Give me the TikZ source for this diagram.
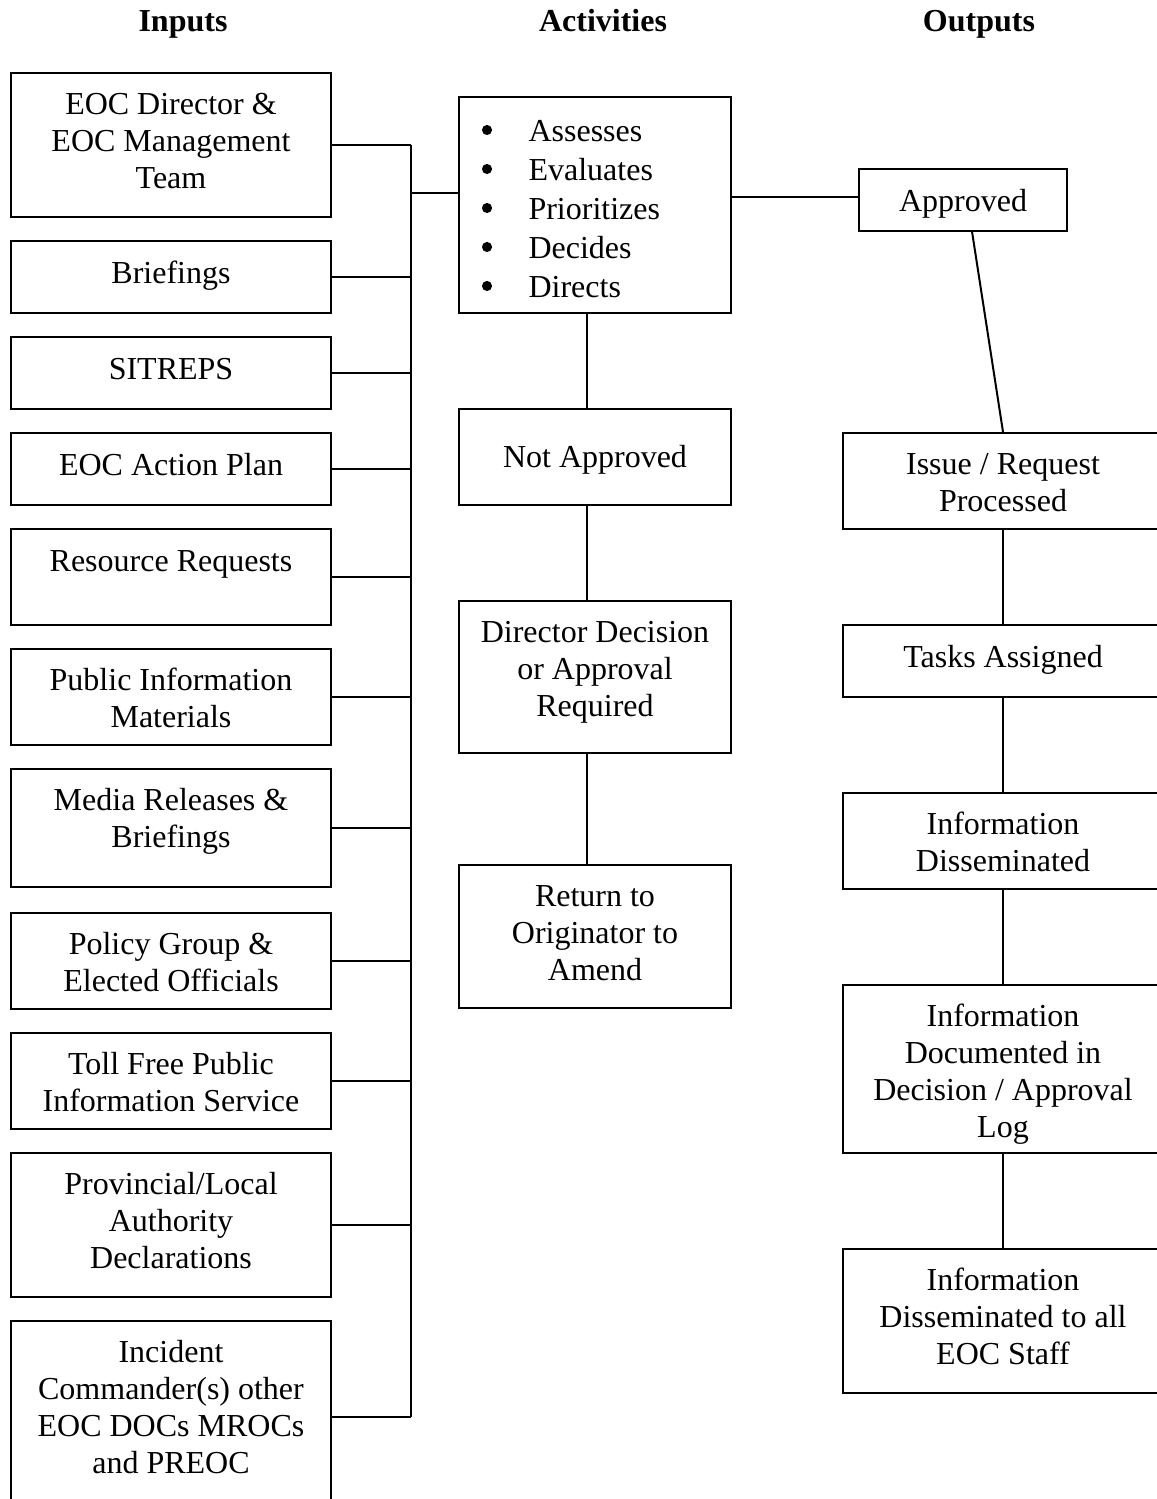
\documentclass[tikz,border=0pt]{standalone}
\usepackage{fontspec}
\setmainfont{Liberation Serif}
\begin{document}
\begin{tikzpicture}[x=0.375pt,y=-0.375pt,
  box/.style={draw, line width=0.75pt, inner sep=0pt},
  txt/.style={anchor=north, inner sep=0pt, align=center, font=\fontsize{12}{13.9}\selectfont},
  head/.style={anchor=base, inner sep=0pt, font=\fontsize{12}{14}\selectfont\bfseries},
  link/.style={line width=0.75pt}]
% box from corner (x1,y1) to (x2,y2)
\newcommand{\mkbox}[5]{\node[box, minimum width={(#4-#2)*0.375pt}, minimum height={(#5-#3)*0.375pt}] (#1) at ({(#2+#4)/2},{(#3+#5)/2}) {};}
% text block whose first baseline sits at y
\newcommand{\mktext}[4]{\node[txt] (#1) at (#2,{#3-26}) {\strut #4};}

\useasboundingbox (0,0) rectangle (1157,1499);
\clip (0,0) rectangle (1157,1499);

% column headings
\node[head] (hin)  at (183,32) {Inputs};
\node[head] (hact) at (603,32) {Activities};
\node[head] (hout) at (979,32) {Outputs};

% inputs
\mkbox{in1}{11}{73}{331}{217}
\mkbox{in2}{11}{241}{331}{313}
\mkbox{in3}{11}{337}{331}{409}
\mkbox{in4}{11}{433}{331}{505}
\mkbox{in5}{11}{529}{331}{625}
\mkbox{in6}{11}{649}{331}{745}
\mkbox{in7}{11}{769}{331}{887}
\mkbox{in8}{11}{913}{331}{1009}
\mkbox{in9}{11}{1033}{331}{1129}
\mkbox{in10}{11}{1153}{331}{1297}
\mkbox{in11}{11}{1321}{331}{1513}
\mktext{t1}{171}{114}{EOC Director \&\\EOC Management\\Team}
\mktext{t2}{171}{283}{Briefings}
\mktext{t3}{171}{379}{SITREPS}
\mktext{t4}{171}{475}{EOC Action Plan}
\mktext{t5}{171}{571}{Resource Requests}
\mktext{t6}{171}{690}{Public Information\\Materials}
\mktext{t7}{171}{810}{Media Releases \&\\Briefings}
\mktext{t8}{171}{954}{Policy Group \&\\Elected Officials}
\mktext{t9}{171}{1074}{Toll Free Public\\Information Service}
\mktext{t10}{171}{1194}{Provincial/Local\\Authority\\Declarations}
\mktext{t11}{171}{1362}{Incident\\Commander(s) other\\EOC DOCs MROCs\\and PREOC}

% activities
\mkbox{act}{459}{97}{731}{313}
\node[anchor=north west, inner sep=0pt, align=left, font=\fontsize{12}{14.6}\selectfont]
  (acts) at (528,{141-27}) {\strut Assesses\\Evaluates\\Prioritizes\\Decides\\Directs};
\foreach \i in {0,...,4}
  \fill (487,{130+39*\i}) circle (1.9pt);
\mkbox{na}{459}{409}{731}{505}
\mkbox{dd}{459}{601}{731}{753}
\mkbox{ret}{459}{865}{731}{1008}
\mktext{tna}{595}{467}{Not Approved}
\mktext{tdd}{595}{642}{Director Decision\\or Approval\\Required}
\mktext{tret}{595}{906}{Return to\\Originator to\\Amend}

% outputs
\mkbox{appr}{859}{169}{1067}{231}
\mkbox{o1}{843}{433}{1163}{529}
\mkbox{o2}{843}{625}{1163}{697}
\mkbox{o3}{843}{793}{1163}{889}
\mkbox{o4}{843}{985}{1163}{1153}
\mkbox{o5}{843}{1249}{1163}{1393}
\mktext{tappr}{963}{211}{Approved}
\mktext{to1}{1003}{474}{Issue / Request\\Processed}
\mktext{to2}{1003}{667}{Tasks Assigned}
\mktext{to3}{1003}{834}{Information\\Disseminated}
\mktext{to4}{1003}{1026}{Information\\Documented in\\Decision / Approval\\Log}
\mktext{to5}{1003}{1290}{Information\\Disseminated to all\\EOC Staff}

% input bus
\coordinate (bus) at (411,0);
\coordinate (busjoin) at (411,193);
\foreach \n in {in1,in2,in3,in4,in5,in6,in7,in8,in9,in10,in11}
  \draw[link] (\n.east) -- (\n.east -| bus);
\draw[link] (in1.east -| bus) -- (in11.east -| bus);
\draw[link] (busjoin) -- (busjoin -| act.west);

% activity links
\coordinate (actjoin) at (731,197);
\draw[link] (actjoin) -- (actjoin -| appr.west);
\coordinate (vx) at (587,0);
\draw[link] (act.south -| vx) -- (na.north -| vx);
\draw[link] (na.south -| vx) -- (dd.north -| vx);
\draw[link] (dd.south -| vx) -- (ret.north -| vx);

% output chain
\coordinate (ox) at (1003,0);
\draw[link] ([xshift=3.4pt]appr.south) -- (o1.north -| ox);
\draw[link] (o1.south -| ox) -- (o2.north -| ox);
\draw[link] (o2.south -| ox) -- (o3.north -| ox);
\draw[link] (o3.south -| ox) -- (o4.north -| ox);
\draw[link] (o4.south -| ox) -- (o5.north -| ox);
\end{tikzpicture}
\end{document}
